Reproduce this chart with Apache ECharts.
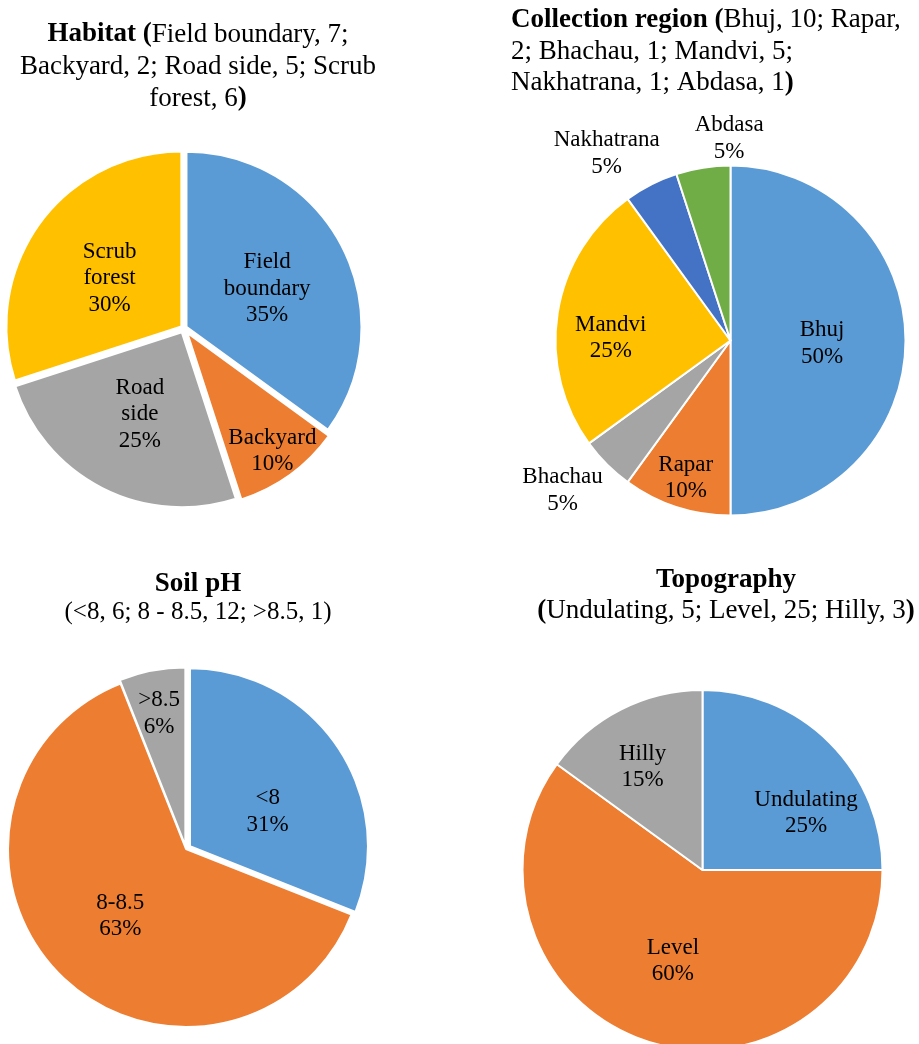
<!DOCTYPE html>
<html><head><meta charset="utf-8">
<script src="https://cdn.jsdelivr.net/npm/echarts@6/dist/echarts.min.js"></script>
<style>html,body{margin:0;padding:0;background:#fff}#c{width:919px;height:1044px}</style>
</head><body><div id="c"></div>
<script>
// ---- data ----
const habitatNames = ['Field boundary', 'Backyard', 'Road side', 'Scrub forest'];
const habitatCounts = [7, 2, 5, 6];
const regionNames = ['Bhuj', 'Rapar', 'Bhachau', 'Mandvi', 'Nakhatrana', 'Abdasa'];
const regionCounts = [10, 2, 1, 5, 1, 1];
const phNames = ['<8', '8-8.5', '>8.5'];
const phPercents = [31, 63, 6];
const topoNames = ['Undulating', 'Level', 'Hilly'];
const topoPercents = [25, 60, 15];

const habitatTitle = '{b|Habitat (}Field boundary, 7;\nBackyard, 2; Road side, 5; Scrub\nforest, 6{b|)}';
const regionTitle = '{b|Collection region (}Bhuj, 10; Rapar,\n2; Bhachau, 1; Mandvi, 5;\nNakhatrana, 1; Abdasa, 1{b|)}';
const phTitle = '{b|Soil pH}\n{s|(<8, 6; 8 - 8.5, 12; >8.5, 1)}';
const topoTitle = '{b|Topography}\n{b|(}Undulating, 5; Level, 25; Hilly, 3{b|)}';

// ---- styles ----
const BLUE = '#5B9BD5', ORANGE = '#ED7D31', GRAY = '#A5A5A5', YELLOW = '#FFC000', DBLUE = '#4472C4', GREEN = '#70AD47';
const FONT = '"Liberation Serif", "Times New Roman", serif';

const charts = [
  { names: habitatNames, values: habitatCounts, colors: [BLUE, ORANGE, GRAY, YELLOW],
    center: [183.8, 328.2], r: 175, explode: [3, 6, 4.5, 3],
    labels: [[0.5, 0, 3], [0.81, 0, 1], [0.51, 0, 0], [0.49, 0, 4]] },
  { names: regionNames, values: regionCounts, colors: [BLUE, ORANGE, GRAY, YELLOW, DBLUE, GREEN],
    center: [730.5, 340.5], r: 175, explode: [0, 0, 0, 0, 0, 0],
    labels: [[0.506, 0, 3], [0.81, 0, 0], [1.267, -9, -9], [0.67, -1, 16.5], [1.29, -20, 17], [1.165, 31, 2.5]] },
  { names: phNames, values: phPercents, colors: [BLUE, ORANGE, GRAY],
    center: [186, 849], r: 178, explode: [4.8, 0, 3.5],
    labels: [[0.47, 6, 14], [0.505, 0, 1.5], [0.767, 0, 5]] },
  { names: topoNames, values: topoPercents, colors: [BLUE, ORANGE, GRAY],
    center: [702.5, 870], r: 180, explode: [0, 0, 0],
    labels: [[0.651, 18.6, 28], [0.516, 0, 0], [0.668, -4, 7]] }
];

const TRANSPARENT = 'rgba(0,0,0,0)';
const series = [];

charts.forEach(function (c) {
  const total = c.values.reduce(function (a, b) { return a + b; }, 0);
  let acc = 0;
  const bis = c.values.map(function (v) {
    const a0 = acc / total * 360; acc += v; const a1 = acc / total * 360;
    return (a0 + a1) / 2 * Math.PI / 180;
  });
  const centers = bis.map(function (b, i) {
    return [c.center[0] + c.explode[i] * Math.sin(b), c.center[1] - c.explode[i] * Math.cos(b)];
  });
  // slice series
  c.names.forEach(function (nm, i) {
    series.push({
      type: 'pie', center: centers[i], radius: [0, c.r], startAngle: 90, clockwise: true,
      silent: true, animation: false, avoidLabelOverlap: false, z: 2,
      label: { show: false }, labelLine: { show: false }, emphasis: { disabled: true },
      data: c.names.map(function (n, j) {
        return { name: n, value: c.values[j],
          itemStyle: j === i ? { color: c.colors[j], borderColor: '#ffffff', borderWidth: 2 }
                             : { color: TRANSPARENT, borderWidth: 0 } };
      })
    });
  });
  // label series
  c.names.forEach(function (nm, i) {
    const L = c.labels[i];
    const rr = L[0] * c.r;
    series.push({
      type: 'pie', center: centers[i], radius: [rr - 0.5, rr + 0.5], startAngle: 90, clockwise: true,
      silent: true, animation: false, avoidLabelOverlap: false, z: 5,
      itemStyle: { color: TRANSPARENT, borderWidth: 0 },
      labelLine: { show: false }, emphasis: { disabled: true },
      data: c.names.map(function (n, j) {
        return { name: n, value: c.values[j],
          label: j === i ? {
            show: true, position: 'inside', offset: [L[1], L[2]], rotate: 0,
            color: '#000', fontFamily: FONT, fontSize: 23, lineHeight: 26.5,
            formatter: function (p) { return p.name.replace(/ /g, '\n') + '\n' + Math.round(p.percent) + '%'; }
          } : { show: false } };
      })
    });
  });
});

function titleStyle(size, lh, rich) {
  return { fontFamily: FONT, fontSize: size, lineHeight: lh, color: '#000', fontWeight: 'normal', rich: rich };
}
const boldRich = function (size, lh) { return { fontFamily: FONT, fontSize: size, lineHeight: lh, color: '#000', fontWeight: 'bold' }; };

const option = {
  backgroundColor: '#ffffff',
  title: [
    { text: habitatTitle, left: 198, top: 18.5, textAlign: 'center', padding: 0,
      textStyle: titleStyle(27, 32, { b: boldRich(27, 32) }) },
    { text: regionTitle, left: 511, top: 4.5, textAlign: 'left', padding: 0,
      textStyle: titleStyle(27, 31.5, { b: boldRich(27, 31.5) }) },
    { text: phTitle, left: 198, top: 569, textAlign: 'center', padding: 0,
      textStyle: titleStyle(25, 27, { b: boldRich(27, 30), s: { fontFamily: FONT, fontSize: 25, lineHeight: 27, color: '#000' } }) },
    { text: topoTitle, left: 726, top: 564.5, textAlign: 'center', padding: 0,
      textStyle: titleStyle(27, 31, { b: boldRich(27, 31) }) }
  ],
  series: series
};

const chart = echarts.init(document.getElementById('c'), null, { renderer: 'canvas' });
chart.setOption(option);
</script>
</body></html>
